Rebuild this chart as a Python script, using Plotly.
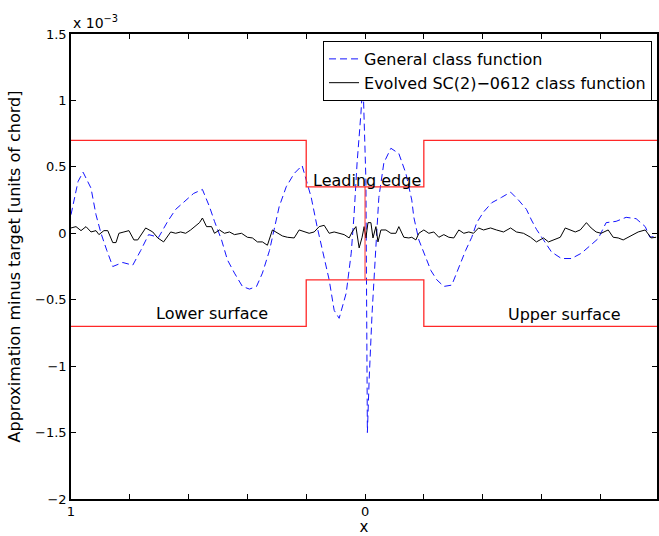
import plotly.graph_objects as go

# Position along the surface: -1 = lower-surface trailing edge, 0 = leading edge, 1 = upper-surface trailing edge
general_x = [-1.000, -0.976, -0.959, -0.932, -0.915, -0.898, -0.878, -0.858, -0.824, -0.790,
             -0.763, -0.736, -0.702, -0.671, -0.644, -0.617, -0.583, -0.553, -0.529, -0.512,
             -0.488, -0.468, -0.444, -0.417, -0.393, -0.369, -0.349, -0.325, -0.308, -0.292,
             -0.268, -0.241, -0.214, -0.183, -0.163, -0.139, -0.122, -0.105, -0.088, -0.064,
             -0.047, -0.037, -0.027, -0.014, -0.007, 0.003, 0.005, 0.008, 0.014, 0.024,
             0.037, 0.047, 0.064, 0.088, 0.115, 0.139, 0.159, 0.166, 0.183, 0.200,
             0.224, 0.244, 0.268, 0.295, 0.319, 0.342, 0.363, 0.380, 0.403, 0.431,
             0.464, 0.495, 0.522, 0.549, 0.566, 0.583, 0.607, 0.634, 0.668, 0.702,
             0.736, 0.766, 0.793, 0.820, 0.854, 0.888, 0.922, 0.953, 0.969, 0.993]
general_y = [0.14, 0.39, 0.46, 0.34, 0.14, 0.00, -0.13, -0.25, -0.22, -0.24,
             -0.13, -0.01, -0.03, 0.09, 0.18, 0.23, 0.30, 0.33, 0.20, 0.09,
             -0.05, -0.20, -0.30, -0.40, -0.42, -0.40, -0.30, -0.13, 0.05, 0.20,
             0.35, 0.45, 0.51, 0.27, 0.05, -0.18, -0.35, -0.58, -0.64, -0.45,
             -0.15, 0.15, 0.53, 0.90, 1.15, 0.40, -0.60, -1.50, -1.10, -0.60,
             -0.10, 0.27, 0.53, 0.64, 0.60, 0.45, 0.25, 0.12, -0.05, -0.15,
             -0.28, -0.35, -0.40, -0.39, -0.25, -0.13, -0.03, 0.08, 0.16, 0.23,
             0.27, 0.31, 0.25, 0.18, 0.10, 0.03, -0.05, -0.14, -0.19, -0.19,
             -0.15, -0.09, -0.04, 0.08, 0.09, 0.12, 0.11, 0.05, -0.03, -0.02]

evolved_x = [-1.000, -0.983, -0.966, -0.949, -0.932, -0.915, -0.905, -0.888, -0.875, -0.858,
             -0.847, -0.837, -0.820, -0.803, -0.786, -0.773, -0.746, -0.722, -0.705, -0.685,
             -0.661, -0.644, -0.627, -0.610, -0.593, -0.576, -0.563, -0.553, -0.539, -0.522,
             -0.512, -0.495, -0.478, -0.461, -0.444, -0.420, -0.400, -0.383, -0.366, -0.349,
             -0.332, -0.315, -0.298, -0.281, -0.264, -0.241, -0.224, -0.207, -0.190, -0.173,
             -0.156, -0.139, -0.122, -0.105, -0.088, -0.071, -0.054, -0.044, -0.031, -0.020,
             -0.010, -0.003, 0.003, 0.010, 0.020, 0.027, 0.037, 0.044, 0.054, 0.071,
             0.088, 0.105, 0.115, 0.132, 0.149, 0.159, 0.173, 0.183, 0.200, 0.217,
             0.234, 0.251, 0.268, 0.285, 0.302, 0.319, 0.336, 0.353, 0.369, 0.386,
             0.403, 0.427, 0.447, 0.471, 0.495, 0.515, 0.539, 0.563, 0.583, 0.607,
             0.624, 0.641, 0.664, 0.681, 0.698, 0.715, 0.732, 0.753, 0.769, 0.786,
             0.803, 0.827, 0.844, 0.861, 0.878, 0.895, 0.912, 0.929, 0.953, 0.963,
             0.973, 0.990]
evolved_y = [0.04, 0.05, 0.02, 0.05, 0.01, 0.02, -0.01, 0.02, 0.02, -0.07,
             -0.07, 0.00, 0.01, 0.02, -0.05, -0.05, 0.04, 0.01, -0.035, -0.065,
             0.01, 0.00, 0.01, 0.00, 0.025, 0.06, 0.08, 0.115, 0.05, 0.05,
             0.00, 0.025, 0.00, 0.01, -0.01, 0.00, -0.03, -0.035, -0.065, -0.065,
             -0.09, 0.025, 0.00, -0.02, -0.03, -0.035, 0.025, 0.01, 0.00, 0.01,
             0.05, 0.06, 0.00, 0.01, 0.00, -0.01, -0.035, 0.01, 0.05, -0.11,
             -0.03, 0.05, -0.035, 0.08, 0.08, -0.035, 0.05, -0.065, 0.025, 0.025,
             0.00, 0.00, 0.05, -0.03, -0.035, -0.03, -0.05, 0.00, 0.025, 0.00,
             0.01, -0.03, -0.01, -0.03, -0.035, 0.025, 0.00, 0.01, 0.00, 0.04,
             0.025, 0.04, 0.025, 0.01, 0.04, 0.01, 0.00, -0.03, -0.065, -0.035,
             -0.065, -0.05, -0.03, 0.04, 0.025, 0.01, 0.025, 0.08, 0.04, 0.01,
             0.00, 0.025, -0.03, -0.035, -0.05, -0.03, -0.01, 0.01, 0.025, -0.01,
             -0.035, -0.03]

# Tolerance envelope
tol_x = [-1.0, -0.2, -0.2, 0.2, 0.2, 1.0]
tol_upper = [0.7, 0.7, 0.35, 0.35, 0.7, 0.7]
tol_lower = [-0.7, -0.7, -0.35, -0.35, -0.7, -0.7]
le_x = [0.0, 0.0]
le_y = [-0.35, 0.35]

x_ticks = [-1.0, -0.8, -0.6, -0.4, -0.2, 0.0, 0.2, 0.4, 0.6, 0.8, 1.0]
x_tick_text = ["1", "", "", "", "", "0", "", "", "", "", "1"]
y_ticks = [-2, -1.5, -1, -0.5, 0, 0.5, 1, 1.5]
y_tick_text = ["\u22122", "\u22121.5", "\u22121", "\u22120.5", "0", "0.5", "1", "1.5"]

FONT = "DejaVu Sans, Liberation Sans, Arial, sans-serif"
RED = "rgb(255,40,40)"

fig = go.Figure()
fig.add_trace(go.Scatter(x=general_x, y=general_y, mode="lines", name="General class function",
                         line=dict(color="rgb(20,20,255)", width=1, dash="7px,4px")))
fig.add_trace(go.Scatter(x=evolved_x, y=evolved_y, mode="lines",
                         name="Evolved SC(2)\u22120612 class function",
                         line=dict(color="black", width=1)))
fig.add_trace(go.Scatter(x=tol_x, y=tol_upper, mode="lines", showlegend=False,
                         line=dict(color=RED, width=1.3)))
fig.add_trace(go.Scatter(x=tol_x, y=tol_lower, mode="lines", showlegend=False,
                         line=dict(color=RED, width=1.3)))
fig.add_trace(go.Scatter(x=le_x, y=le_y, mode="lines", showlegend=False,
                         line=dict(color="rgba(255,40,40,0.75)", width=1.3)))

fig.add_annotation(x=0.007, y=0.40, text="Leading edge", showarrow=False,
                   font=dict(size=16, color="black", family=FONT))
fig.add_annotation(x=-0.519, y=-0.60, text="Lower surface", showarrow=False,
                   font=dict(size=16, color="black", family=FONT))
fig.add_annotation(x=0.678, y=-0.61, text="Upper surface", showarrow=False,
                   font=dict(size=16, color="black", family=FONT))
fig.add_annotation(xref="paper", yref="paper", x=0.0, y=1.0, xanchor="left", yanchor="bottom",
                   yshift=1, text="x 10<sup>\u22123</sup>", showarrow=False,
                   font=dict(size=14, color="black", family=FONT))

fig.update_layout(
    width=659, height=536,
    margin=dict(l=71, r=0, t=34, b=37),
    paper_bgcolor="white", plot_bgcolor="white",
    font=dict(family=FONT, size=16, color="black"),
    legend=dict(x=0.9915, y=0.985, xanchor="right", yanchor="top",
                bgcolor="white", bordercolor="black", borderwidth=1,
                font=dict(size=16, family=FONT), tracegroupgap=0),
    xaxis=dict(range=[-1.0, 0.993], tickvals=x_ticks, ticktext=x_tick_text,
               ticks="inside", ticklen=5, tickcolor="black", showline=True, linecolor="black",
               linewidth=1.5, mirror="ticks", showgrid=False, zeroline=False,
               title=dict(text="x", standoff=0, font=dict(size=15)),
               tickfont=dict(size=13)),
    yaxis=dict(range=[-2, 1.5], tickvals=y_ticks, ticktext=y_tick_text,
               ticks="inside", ticklen=5, tickcolor="black", showline=True, linecolor="black",
               linewidth=1.5, mirror="ticks", showgrid=False, zeroline=False,
               title=dict(text="Approximation minus target [units of chord]", standoff=10,
                          font=dict(size=16)),
               tickfont=dict(size=13)),
)

fig.write_html("out.html")
